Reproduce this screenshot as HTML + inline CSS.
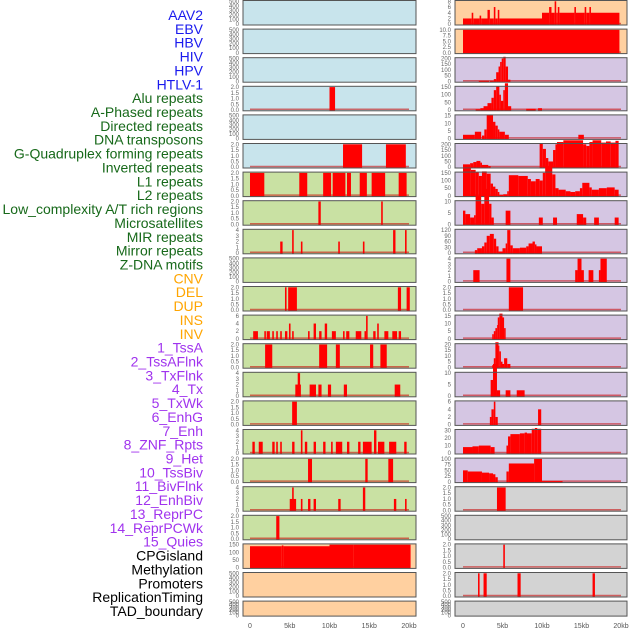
<!DOCTYPE html>
<html><head><meta charset="utf-8">
<style>
html,body{margin:0;padding:0;background:#fff;}
svg{display:block;}
.lab{font-family:"Liberation Sans",sans-serif;font-size:14px;}
.tk{font-family:"Liberation Sans",sans-serif;font-size:6px;fill:#666;}
.xt{font-family:"Liberation Sans",sans-serif;font-size:7px;fill:#555;}
</style></head>
<body>
<svg id="chart" width="630" height="630" viewBox="0 0 630 630" xmlns="http://www.w3.org/2000/svg">
<g id="labels"></g>
<g id="panels"></g>
<g id="xaxes"></g>
</svg>
<script>
// ---- labels ----
const labelNames = ["AAV2","EBV","HBV","HIV","HPV","HTLV-1","Alu repeats","A-Phased repeats","Directed repeats","DNA transposons","G-Quadruplex forming repeats","Inverted repeats","L1 repeats","L2 repeats","Low_complexity A/T rich regions","Microsatellites","MIR repeats","Mirror repeats","Z-DNA motifs","CNV","DEL","DUP","INS","INV","1_TssA","2_TssAFlnk","3_TxFlnk","4_Tx","5_TxWk","6_EnhG","7_Enh","8_ZNF_Rpts","9_Het","10_TssBiv","11_BivFlnk","12_EnhBiv","13_ReprPC","14_ReprPCWk","15_Quies","CPGisland","Methylation","Promoters","ReplicationTiming","TAD_boundary"];
const labelGroups = ["v","v","v","v","v","v","r","r","r","r","r","r","r","r","r","r","r","r","r","s","s","s","s","s","c","c","c","c","c","c","c","c","c","c","c","c","c","c","c","o","o","o","o","o"];
const xTickValues = [0,5,10,15,20];
const xTickLabels = ["0","5kb","10kb","15kb","20kb"];

// ---- y tick sets ----
const tEmpty = ["0","100","200","300","400","500"];
const t2 = ["0.0","0.5","1.0","1.5","2.0"];
const t4 = ["0","1","2","3","4"];
const t6 = ["0","2","4","6"];
const t8 = ["0","2","4","6","8"];
const t10 = ["0.0","2.5","5.0","7.5","10.0"];
const t200 = ["0","50","100","150","200"];
const t150 = ["0","50","100","150"];
const t15 = ["0","5","10","15"];
const t10b = ["0","5","10"];
const t120 = ["0","30","60","90","120"];
const t20 = ["0","5","10","15","20"];
const t30 = ["0","10","20","30"];
const t100 = ["0","25","50","75","100"];

// ---- left column data: [startKb, endKb, value] ----
const L_alu = [[10,10.7,2]];
const L_gquad = [[11.7,14.1,2],[17.1,19.6,2]];
const L_l1 = [[0,1.8,2],[6.2,7.2,2],[9.2,10.2,2],[10.4,12,2],[12.2,12.7,2],[13.8,14.7,2],[15.3,17,2],[18.7,19.7,2]];
const L_lowc = [[8.6,8.9,2],[16.5,16.7,2]];
const L_mir = [[3.8,4.1,2],[5.3,5.5,4],[6.4,6.6,2],[11.1,11.3,2],[14.2,14.4,2],[18,18.3,4],[19.5,19.7,4]];
const L_del = [[4.4,4.6,2],[4.8,5.9,2],[18.6,19,2],[19.7,20.1,2]];
const L_ins = [[0.4,1,2],[1.8,2,2],[2.1,2.5,2],[2.8,3,2],[3.3,3.5,2],[3.8,4,2],[4.4,4.7,2],[4.9,5.1,4],[5.3,5.5,2],[7.3,7.5,2],[8,8.3,4],[8.7,9,2],[9.4,9.7,4],[10.3,10.8,2],[11.7,11.9,2],[12.1,12.5,2],[13.3,14,2],[14.4,14.6,2],[14.6,14.8,6],[15.5,15.8,2],[16,16.2,4],[16.9,17.4,2],[17.9,18.5,2],[18.7,19,2]];
const L_tssa = [[1.9,2.8,2],[8.7,9.7,2],[10.8,11.3,2],[15.1,15.5,2],[16.4,17.2,2]];
const L_tssaf = [[5.7,6.4,2],[6,6.3,4],[7.5,8.3,2],[8.6,9,2],[9.8,10.2,2],[11.8,12.2,2],[18.2,18.9,2]];
const L_txf = [[5.3,5.9,2]];
const L_tx = [[0.3,0.6,2],[1.1,1.6,2],[2.8,3.1,2],[3.3,3.5,2],[3.8,4,2],[5.3,5.6,2],[6.4,6.6,4],[6.9,7.2,2],[8,8.3,2],[9.2,9.5,2],[10.2,10.4,2],[10.8,11.6,2],[12.2,12.5,2],[13.6,13.9,2],[14.2,15.3,2],[15.6,15.9,4],[16.1,16.9,2],[17.5,18.4,2],[19.4,19.7,2]];
const L_txwk = [[7.3,7.8,2],[14.5,14.8,2],[17.4,18,2]];
const L_enhg = [[5,5.8,2],[5.3,5.5,4],[6.4,6.6,2],[7.3,7.6,2],[8,8.3,2],[11.1,11.4,2],[14.2,14.5,4],[18.1,18.4,2],[19.5,19.7,2]];
const L_enh = [[3.3,3.7,2]];
const L_cpg = [[0,4,140],[4,4.2,145],[4.2,10,140],[10,13,150],[13,20.2,150]];

// ---- right column data ----
const R_aav2 = [[0,1.1,2],[1.1,1.3,4],[1.3,2.1,2],[2.1,2.3,3],[2.3,3.1,2],[3.1,3.4,5],[3.4,3.9,2],[3.9,4.1,6],[4.1,4.4,2],[4.4,4.6,5],[4.6,10,2],[10,10.9,4],[10.9,11.2,6],[11.2,11.6,4],[11.6,11.8,8],[11.8,12,4],[12,12.2,6],[12.2,14.1,4],[14.1,14.3,6],[14.3,15.4,4],[15.4,15.6,6],[15.6,16,4],[16,16.2,6],[16.2,19.8,4]];
const R_ebv = [[0,19.8,10]];
const R_hiv = [[2,3.3,5],[3.4,3.9,5],[3.9,4.2,20],[4.2,4.5,80],[4.5,4.7,130],[4.7,4.9,170],[4.9,5.1,200],[5.1,5.4,215],[5.4,5.7,130],[5.7,6.0,15]];
const R_hbv = [[1.6,2.2,5],[2.2,2.6,12],[2.6,3.1,25],[3.1,3.6,45],[3.6,3.9,80],[3.9,4.2,130],[4.2,4.6,155],[4.6,4.8,100],[4.8,5.1,60],[5.1,5.3,130],[5.3,5.7,175],[5.7,6.1,25],[8,9.2,8],[9.5,10,12]];
const R_hpv = [[0,1.5,2.5],[1.5,2.3,4.5],[2.4,2.7,2],[2.7,3,6],[3,3.8,15.5],[3.8,4.1,11],[4.1,4.4,8.5],[4.4,4.6,6],[4.6,5.3,4.5],[5.3,5.8,2.5],[14.6,15.3,2.5]];
const R_gq = [[0,0.9,25],[0.9,1.3,35],[1.3,1.7,45],[1.7,2.2,55],[2.2,2.4,40],[2.4,3.2,20],[3.2,3.5,10],[9.7,10.1,210],[10.1,10.5,160],[10.5,10.8,80],[10.8,11.4,50],[11.4,11.7,150],[11.7,11.9,200],[11.9,12.7,220],[12.7,15.2,235],[15.2,15.6,200],[15.6,16,185],[16,16.4,220],[16.4,17.5,235],[17.5,18.1,215],[18.1,18.7,225],[18.7,19.3,215],[19.3,19.7,230]];
const R_l1 = [[0,1,180],[1,1.6,170],[1.6,2,155],[2,2.4,130],[2.4,3,160],[3,3.5,145],[3.5,3.8,80],[3.8,4.1,60],[4.1,4.4,45],[4.4,4.6,25],[4.6,5.1,5],[5.1,5.6,10],[5.6,5.8,30],[5.8,7,135],[7,8.2,130],[8.2,8.6,110],[8.6,9.2,95],[9.2,9.7,110],[9.7,10.1,100],[10.1,10.4,150],[10.4,11.3,195],[11.3,11.7,140],[11.7,12.1,50],[12.1,13,40],[13,13.6,30],[13.6,14.2,25],[14.2,14.8,30],[14.8,15.1,50],[15.1,16,85],[16,16.3,55],[16.3,17.2,40],[17.2,18.2,50],[18.2,19.2,55],[19.2,19.7,40]];
const R_lowc = [[0,0.3,6],[0.3,0.9,4.5],[0.9,1.4,3],[1.4,1.6,4],[1.6,2.3,12.5],[2.3,2.7,9],[2.7,3.3,15.5],[3.3,3.6,9],[3.6,3.9,3],[5.4,6,6],[9.6,10.1,3],[11.4,11.9,3],[14.4,15.2,4.5],[15.2,15.6,3],[16.6,17.2,3],[19.2,19.7,3]];
const R_mir = [[1.5,1.8,15],[1.8,2.4,25],[2.4,2.7,35],[2.7,3,55],[3,3.4,90],[3.4,3.9,100],[3.9,4.2,75],[4.2,4.5,35],[4.5,5,8],[5,5.4,25],[5.4,5.6,50],[5.6,6,120],[6,6.3,40],[6.3,7.2,25],[7.2,8,28],[8,8.3,35],[8.3,8.8,50],[8.8,9.1,60],[9.1,9.3,45],[9.3,10,35]];
const R_zdna = [[1.3,2.1,2],[5.5,6,4],[14.2,14.5,2],[14.5,15,4],[15,15.3,2],[15.9,16.5,2],[17.2,17.4,2],[17.4,18.2,4]];
const R_del = [[5.8,7.6,2]];
const R_ins = [[3.7,3.9,3],[3.9,4.1,5],[4.1,4.3,7],[4.3,4.4,9],[4.4,4.6,14],[4.6,5,16.5],[5,5.2,14],[5.2,5.4,7]];
const R_inv = [[3.7,3.9,2],[3.9,4.1,8],[4.1,4.5,22],[4.5,4.6,19],[4.6,4.8,14],[4.8,5,5],[5,5.2,3],[5.2,5.6,8],[5.6,6,3]];
const R_tssa = [[3.5,3.8,7],[3.8,4.3,14],[4.3,4.7,2.5],[5.4,6,2.5],[6.8,7.8,2.5]];
const R_tssaf = [[3.4,3.6,2],[3.6,3.9,4],[3.9,4.1,6],[4.1,4.4,2],[9.5,9.9,4]];
const R_txf = [[0,1.2,8],[1.2,2,9],[2,3.5,10],[3.5,4,8],[5.5,5.7,10],[5.7,6,22],[6,7.2,25],[7.2,7.8,26],[7.8,8.1,27],[8.1,8.7,26],[8.7,9.1,32],[9.1,9.4,33],[9.4,9.9,32]];
const R_tx = [[0,0.6,50],[0.6,2.4,45],[2.4,3.3,40],[3.3,3.8,37],[3.8,4.1,33],[4.1,4.4,20],[5.5,5.8,45],[5.8,9,80],[9,10,100],[10,12.6,3]];
const R_txwk = [[4.3,5.4,2]];
const R_znf = [[5.1,5.3,2]];
const R_het = [[1.9,2.1,2],[2.6,3,2],[6.9,7.3,2],[16.4,16.7,2]];

// ---- layout (not data) ----
const cols = [{x0:243,x1:416,zero:250,px:7.95,tickX:239},{x0:455,x1:627,zero:463,px:7.9,tickX:451}];
const BG = {b:"#c8e4ec",g:"#c9e1a3",o:"#ffd0a0",p:"#d5c6e3",y:"#d3d3d3"};
const panels = [
 // left column
 [0,0,"b",tEmpty,null,"aav2"],[0,1,"b",tEmpty,null,"ebv"],[0,2,"b",tEmpty,null,"hbv"],[0,3,"b",t2,L_alu,"alu"],[0,4,"b",tEmpty,null,"directed"],[0,5,"b",t2,L_gquad,"gquad"],
 [0,6,"g",t2,L_l1,"l1"],[0,7,"g",t2,L_lowc,"lowcomplexity"],[0,8,"g",t4,L_mir,"mir"],[0,9,"g",tEmpty,null,"zdna"],[0,10,"g",t2,L_del,"del"],[0,11,"g",t6,L_ins,"ins"],
 [0,12,"g",t2,L_tssa,"tssa"],[0,13,"g",t4,L_tssaf,"tssaflnk"],[0,14,"g",t2,L_txf,"txflnk"],[0,15,"g",t4,L_tx,"tx"],[0,16,"g",t2,L_txwk,"txwk"],[0,17,"g",t4,L_enhg,"enhg"],[0,18,"g",t2,L_enh,"enh"],
 [0,19,"o",t150,L_cpg,"cpgisland"],[0,20,"o",tEmpty,null,"replication"],[0,21,"o",tEmpty,null,"tad"],
 // right column
 [1,0,"o",t8,R_aav2,"aav2"],[1,1,"o",t10,R_ebv,"ebv"],[1,2,"p",t200,R_hiv,"hiv"],[1,3,"p",t150,R_hbv,"hbv"],[1,4,"p",t15,R_hpv,"hpv"],[1,5,"p",t200,R_gq,"gquad"],
 [1,6,"p",t150,R_l1,"l1"],[1,7,"p",t10b,R_lowc,"lowcomplexity"],[1,8,"p",t120,R_mir,"mir"],[1,9,"p",t4,R_zdna,"zdna"],[1,10,"p",t2,R_del,"del"],[1,11,"p",t15,R_ins,"ins"],
 [1,12,"p",t20,R_inv,"inv"],[1,13,"p",t10b,R_tssa,"tssa"],[1,14,"p",t6,R_tssaf,"tssaflnk"],[1,15,"p",t30,R_txf,"txflnk"],[1,16,"p",t100,R_tx,"tx"],
 [1,17,"y",t2,R_txwk,"txwk"],[1,18,"y",tEmpty,null,"enhg"],[1,19,"y",t2,R_znf,"znf"],[1,20,"y",t2,R_het,"het"],[1,21,"y",tEmpty,null,"tad"]
];
const NS="http://www.w3.org/2000/svg";
function mk(tag,attrs,parent){const e=document.createElementNS(NS,tag);for(const k in attrs)e.setAttribute(k,attrs[k]);parent.appendChild(e);return e;}
function rowTop(r){return 0.5+r*28.6;}
function rowH(r){return r===21?15:24.5;}

// labels
const LC={v:"#1a1aee",r:"#17691a",s:"#ffa500",c:"#a033ee",o:"#000"};
const lg=document.getElementById("labels");
labelNames.forEach((n,i)=>{
  const t=mk("text",{x:203,y:15+i*13.86+5,"text-anchor":"end",class:"lab",fill:LC[labelGroups[i]]},lg);
  
  
  t.textContent=n;
});

const pg=document.getElementById("panels");
panels.forEach(p=>{
  const [ci,r,bg,ticks,data,nm]=p;
  const c=cols[ci],top=rowTop(r),h=rowH(r),bot=top+h;
  const g=mk("g",{},pg);
  
  
  const xs=kb=>c.zero+kb*c.px;
  const ymax=parseFloat(ticks[ticks.length-1]);
  const ys=v=>bot-0.8-(v/ymax)*(h-1.6);
  mk("rect",{x:c.x0,y:top,width:c.x1-c.x0,height:h,fill:BG[bg]},g);
  if(data){
    mk("line",{x1:xs(0),x2:xs(20),y1:bot-1.5,y2:bot-1.5,stroke:"rgba(200,0,0,0.55)","stroke-width":1.5},g);
    data.forEach(d=>{
      const b=mk("rect",{x:xs(d[0]),y:ys(d[2]),width:Math.max(0.8,xs(d[1])-xs(d[0])),height:bot-ys(d[2]),fill:"#ff0000"},g);
      
      
    });
  }
  mk("rect",{x:c.x0,y:top,width:c.x1-c.x0,height:h,fill:"none",stroke:"#555","stroke-width":1},g);
  ticks.forEach((t,i)=>{
    const v=parseFloat(t);
    const tx=mk("text",{x:c.tickX,y:ys(v)+2,"text-anchor":"end",class:"tk"},g);
    
    
    tx.textContent=t;
  });
});

const xg=document.getElementById("xaxes");
cols.forEach((c,ci)=>{
  xTickValues.forEach((v,i)=>{
    const t=mk("text",{x:c.zero+v*c.px,y:628,"text-anchor":"middle",class:"xt"},xg);
    
    
    t.textContent=xTickLabels[i];
  });
});
</script>
</body></html>
